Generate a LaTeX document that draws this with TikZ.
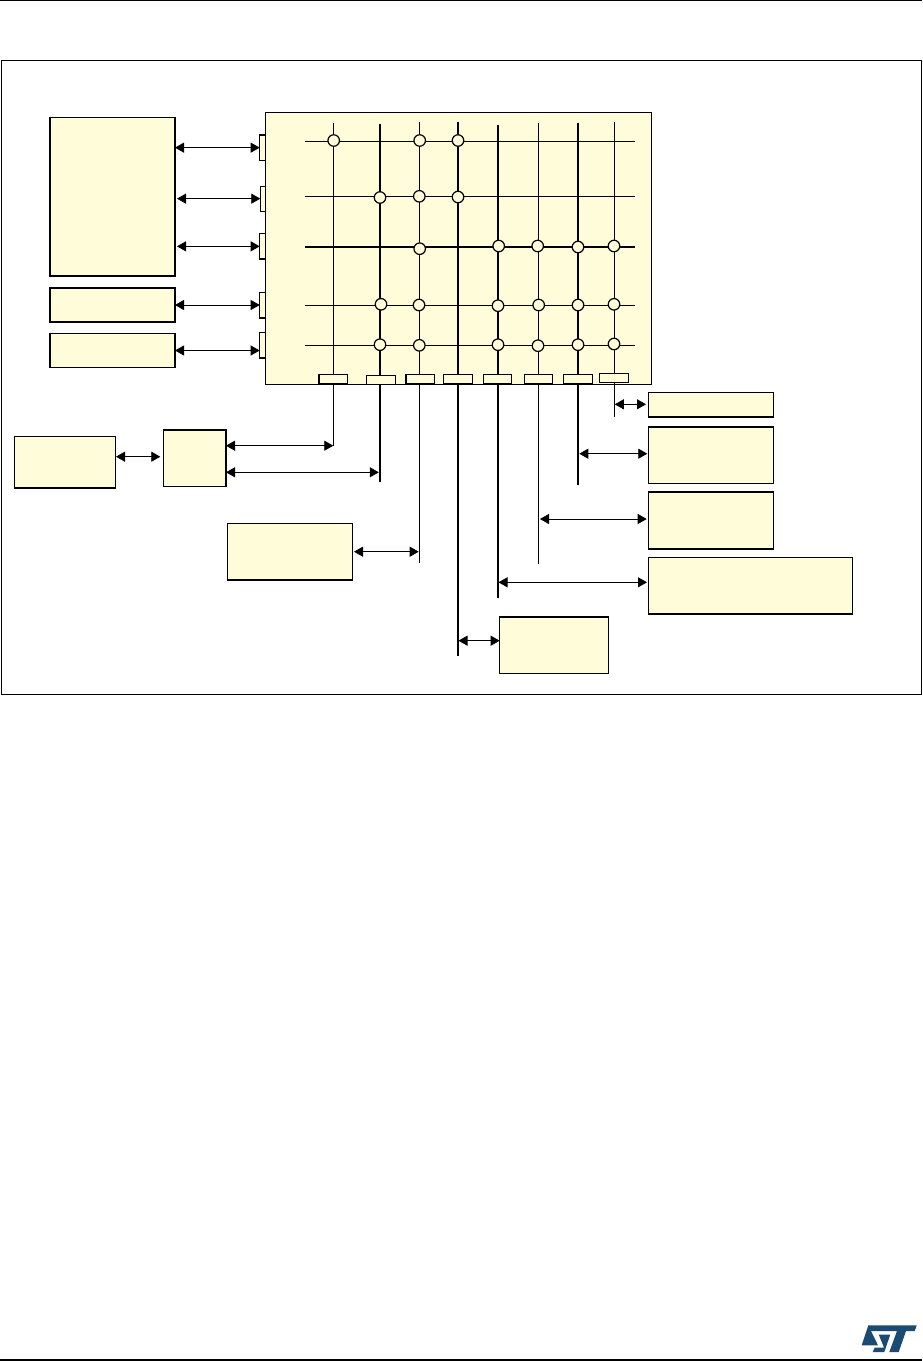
\documentclass[tikz,border=0pt]{standalone}
\usetikzlibrary{arrows.meta,calc}
\definecolor{boxfill}{HTML}{FFFCD9}
\definecolor{stblue}{HTML}{1B4A73}
\tikzset{
  box/.style={draw=black,fill=boxfill,inner sep=0pt,outer sep=0pt,line width=1pt,rectangle},
  heavy/.style={line width=1.5pt},
  biarrow/.style={draw=black,line width=.8pt,{Triangle[length=9pt,width=10pt]}-{Triangle[length=9pt,width=10pt]}},
  thinbus/.style={draw=black,line width=.8pt},
  thickbus/.style={draw=black,line width=1.6pt},
  junction/.style={circle,draw=black,fill=boxfill,line width=1.2pt,minimum size=11.5pt,inner sep=0pt,outer sep=0pt},
  rule/.style={draw=black,line width=1.1pt}
}
\newcommand{\yellowbox}[6][]{\node[box,#1,minimum width={(#4-#2)*1pt},minimum height={(#5-#3)*1pt}] (#6) at ({(#2+#4)/2},{(#3+#5)/2}) {};}
\begin{document}
\begin{tikzpicture}[x=1pt,y=-1pt]
\useasboundingbox (0,0) rectangle (922,1361);
\fill[white] (0,0) rectangle (922,1361);
% page rules
\coordinate (topl) at (0,0.6); \coordinate (topr) at (922,0.6);
\coordinate (botl) at (0,1360); \coordinate (botr) at (922,1360);
\draw[rule] (topl) -- (topr);
\draw[rule] (botl) -- (botr);
% frame
\node[draw=black,line width=.9pt,inner sep=0pt,outer sep=0pt,minimum width=920pt,minimum height=634pt] (frame) at (461.3,377.3) {};
% main block
\yellowbox{265.3}{112.3}{651.3}{384.3}{matrix}
\draw[line width=1.5pt] (matrix.north east) -- (matrix.south east);
% horizontal buses
\foreach \n/\y/\st in {1/141.3/thinbus,2/196.3/thinbus,3/247/thickbus,4/305.3/thinbus,5/345.3/thinbus}{
  \coordinate (hl\n) at (304.5,\y);
  \coordinate (hr\n) at (634.5,\y);
  \draw[\st] (hl\n) -- (hr\n);
}
% vertical buses
\foreach \n/\x/\t/\b/\st in {1/333.3/123/445.7/thinbus,2/380/124/481.7/thickbus,3/419.3/122/563/thinbus,4/458/122/656/thickbus,5/498/124.5/598/thickbus,6/538.3/122.7/564/thinbus,7/578/123/485/thickbus,8/614.3/122/416.7/thinbus}{
  \coordinate (vt\n) at (\x,\t);
  \coordinate (vb\n) at (\x,\b);
  \draw[\st] (vt\n) -- (vb\n);
}
% left ports
\yellowbox[heavy]{259.7}{135}{265.3}{160.3}{p1}
\yellowbox{260.3}{186}{265.3}{211.3}{p2}
\yellowbox[heavy]{259.7}{233.7}{265.3}{259}{p3}
\yellowbox[heavy]{259.7}{292.7}{265.3}{318}{p4}
\yellowbox[heavy]{259.7}{332.7}{265.3}{358}{p5}
% bottom ports
\yellowbox[heavy]{319}{374.7}{347.3}{384}{q1}
\yellowbox{366.7}{375.7}{395.3}{384}{q2}
\yellowbox[heavy]{406}{374.7}{434.7}{383.7}{q3}
\yellowbox[heavy]{443.7}{374.7}{472.3}{383.7}{q4}
\yellowbox{483.3}{374.7}{511.7}{383.5}{q5}
\yellowbox{524.3}{374.7}{552.7}{383.5}{q6}
\yellowbox[heavy]{563.7}{374.7}{592.7}{383.7}{q7}
\yellowbox[heavy]{599.7}{373.3}{628.7}{382.5}{q8}
% switches
\foreach \n/\x/\y in {
  a1/333.7/140.5,a2/419.7/140.5,a3/458/140.5,
  b1/380/197.5,b2/419.3/196.3,b3/458/197,
  c1/419.7/248.7,c2/498.7/246,c3/537.7/246,c4/578/247,c5/614/246,
  d1/381/304.3,d2/419/305,d3/498/305.7,d4/538.7/305,d5/578/305,d6/614/304.3,
  e1/380/344.7,e2/419.3/345.3,e3/498/344.7,e4/538/345.7,e5/578/344.7,e6/614/344}{
  \node[junction] (sw\n) at (\x,\y) {};
}
% masters left
\yellowbox[heavy]{50}{117.7}{175}{276}{cpu}
\yellowbox[heavy]{50}{288}{175}{322}{mA}
\yellowbox[line width=1.2pt]{50}{333.7}{175}{367.3}{mB}
% lower left
\yellowbox[heavy]{14.7}{436.7}{115.3}{488}{ext}
\yellowbox[line width=1.2pt]{163.3}{430}{226}{486.3}{ctl}
\yellowbox[line width=1.2pt]{227.3}{523.7}{352.3}{580}{sA}
% lower right
\yellowbox[line width=1.2pt]{648.3}{392.7}{773.3}{417}{r1}
\yellowbox[line width=1.3pt]{648.3}{427}{773.3}{483.3}{r2}
\yellowbox[heavy]{648.3}{492}{773.3}{549}{r3}
\yellowbox[line width=1.2pt]{648.3}{557.7}{852.7}{614}{r4}
\yellowbox[line width=1.3pt]{499.7}{617}{608.3}{673.3}{r5}
% arrows, masters to ports
\draw[biarrow] (cpu.east |- p1.west) -- (p1.west);
\draw[biarrow] ([xshift=2pt]cpu.east |- p2.west) -- (p2.west);
\draw[biarrow] ([xshift=2pt]cpu.east |- p3.west) -- (p3.west);
\draw[biarrow] (mA.east) -- (mA.east -| p4.west);
\draw[biarrow] (mB.east) -- (mB.east -| p5.west);
% arrows, lower left
\coordinate (yA) at (0,456.7);
\coordinate (yB) at (0,445.7);
\coordinate (yC) at (0,472.3);
\coordinate (yD) at (0,551.7);
\coordinate (yE) at (0,640.7);
\coordinate (yF) at (0,582.3);
\coordinate (yG) at (0,519);
\coordinate (yH) at (0,453.7);
\coordinate (yI) at (0,404.3);
\draw[biarrow] ([xshift=.7pt]ext.east |- yA) -- ([xshift=-3pt]ctl.west |- yA);
\draw[biarrow] (ctl.east |- yB) -- (vb1 |- yB);
\draw[biarrow] (ctl.east |- yC) -- ([xshift=-1.2pt]vb2 |- yC);
\draw[biarrow] ([xshift=1.7pt]sA.east |- yD) -- ([xshift=-.6pt]vb3 |- yD);
% arrows, lower right
\draw[biarrow] ([xshift=.5pt]vb4 |- yE) -- (r5.west |- yE);
\draw[biarrow] ([xshift=.5pt]vb5 |- yF) -- ([xshift=-1.3pt]r4.west |- yF);
\draw[biarrow] ([xshift=1.7pt]vb6 |- yG) -- ([xshift=-1.6pt]r3.west |- yG);
\draw[biarrow] ([xshift=1.3pt]vb7 |- yH) -- ([xshift=-1pt]r2.west |- yH);
\draw[biarrow] ([xshift=.5pt]vb8 |- yI) -- ([xshift=-2.3pt]r1.west |- yI);
% logo
\fill[stblue] (868.3,1325.3) -- (916.7,1325.3) -- (914.7,1331) -- (906,1331) -- (898.7,1352) -- (889.3,1352) -- (897,1331) -- (871,1331) -- (878,1345.3) -- (861.7,1345.3) -- cycle;
\fill[stblue] (878.7,1334.5) -- (890.3,1334.5) -- (884.3,1352) -- (872.7,1352) -- (874.8,1347.5) -- (884,1347.5) -- cycle;
\end{tikzpicture}
\end{document}
